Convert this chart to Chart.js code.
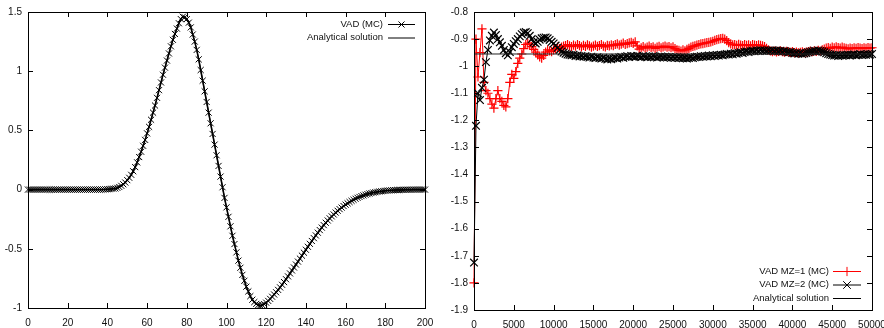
<!DOCTYPE html>
<html>
<head>
<meta charset="utf-8">
<title>VAD</title>
<script src="https://cdn.jsdelivr.net/npm/chart.js@4.4.1/dist/chart.umd.min.js"></script>
<style>
  body { margin: 0; background: #fff; }
  #wrap { position: relative; width: 884px; height: 328px; overflow: hidden; }
  canvas { position: absolute; top: 0; }
  #left { left: 0; }
  #right { left: 440px; }
</style>
</head>
<body>
<div id="wrap">
<canvas id="left" width="440" height="328"></canvas>
<canvas id="right" width="444" height="328"></canvas>
</div>
<script>
// left panel: value at x = 0, 1, 2 ... 200
var vadMC = [
	0, 0, 0, 0, 0, 0, 0, 0, 0, 0,
	0, 0, 0, 0, 0, 0, 0, 0, 0, 0,
	0, 0, 0, 0, 0, 0, 0, 0, 0, 0,
	0, 0, 0, 0, 0, 0, 0, 0, 0.001, 0.002,
	0.003, 0.004, 0.006, 0.008, 0.01, 0.015, 0.022, 0.032, 0.045, 0.06,
	0.08, 0.1, 0.125, 0.155, 0.19, 0.23, 0.275, 0.32, 0.37, 0.42,
	0.475, 0.53, 0.59, 0.65, 0.71, 0.775, 0.84, 0.905, 0.97, 1.03,
	1.09, 1.15, 1.21, 1.265, 1.315, 1.36, 1.405, 1.44, 1.46, 1.455,
	1.44, 1.41, 1.37, 1.31, 1.25, 1.18, 1.1, 1.01, 0.92, 0.83,
	0.74, 0.65, 0.56, 0.47, 0.38, 0.29, 0.2, 0.11, 0.02, -0.07,
	-0.15, -0.23, -0.31, -0.39, -0.46, -0.53, -0.6, -0.66, -0.72, -0.77,
	-0.82, -0.86, -0.9, -0.93, -0.95, -0.965, -0.975, -0.978, -0.975, -0.967,
	-0.955, -0.94, -0.923, -0.905, -0.886, -0.867, -0.847, -0.826, -0.804, -0.781,
	-0.757, -0.733, -0.708, -0.683, -0.658, -0.633, -0.608, -0.583, -0.558, -0.533,
	-0.508, -0.483, -0.458, -0.434, -0.41, -0.387, -0.364, -0.342, -0.321, -0.3,
	-0.28, -0.261, -0.243, -0.226, -0.21, -0.194, -0.179, -0.165, -0.152, -0.139,
	-0.127, -0.116, -0.105, -0.095, -0.086, -0.077, -0.069, -0.062, -0.055, -0.049,
	-0.043, -0.038, -0.033, -0.029, -0.025, -0.022, -0.019, -0.016, -0.014, -0.012,
	-0.01, -0.008, -0.007, -0.006, -0.005, -0.004, -0.003, -0.003, -0.002, -0.002,
	-0.001, -0.001, -0.001, -0.001, 0, 0, 0, 0, 0, 0,
	0
];
// MC points sit on the analytical curve at this scale
var analyticLeft = vadMC;

// right panel: one sample every 250 steps, 0 ... 50000
var mcStep = 250;
var mz1 = [
	-1.8, -0.9, -1.04, -0.95, -0.862, -1.06, -1.09, -1.1, -1.12, -1.14,
	-1.155, -1.12, -1.09, -1.12, -1.13, -1.145, -1.15, -1.12, -1.06, -1.03,
	-1.045, -1.02, -0.99, -0.97, -0.955, -0.935, -0.92, -0.915, -0.92, -0.928,
	-0.938, -0.948, -0.958, -0.966, -0.97, -0.96, -0.948, -0.94, -0.944, -0.946,
	-0.94, -0.935, -0.93, -0.935, -0.93, -0.926, -0.924, -0.92, -0.925, -0.928,
	-0.922, -0.926, -0.92, -0.924, -0.929, -0.923, -0.927, -0.921, -0.925, -0.93,
	-0.926, -0.922, -0.927, -0.924, -0.92, -0.926, -0.929, -0.923, -0.925, -0.921,
	-0.924, -0.92, -0.918, -0.922, -0.919, -0.915, -0.92, -0.917, -0.914, -0.912,
	-0.916, -0.91, -0.925, -0.937, -0.932, -0.928, -0.933, -0.93, -0.926, -0.931,
	-0.929, -0.934, -0.93, -0.927, -0.932, -0.929, -0.926, -0.93, -0.928, -0.932,
	-0.929, -0.935, -0.94, -0.942, -0.944, -0.94, -0.943, -0.938, -0.934, -0.93,
	-0.927, -0.925, -0.922, -0.92, -0.918, -0.917, -0.915, -0.913, -0.912, -0.91,
	-0.908, -0.905, -0.902, -0.9, -0.898, -0.897, -0.9, -0.906, -0.913, -0.918,
	-0.921, -0.92, -0.923, -0.919, -0.922, -0.924, -0.92, -0.923, -0.921, -0.925,
	-0.92, -0.922, -0.924, -0.921, -0.923, -0.925, -0.928, -0.934, -0.94, -0.944,
	-0.946, -0.944, -0.947, -0.945, -0.943, -0.946, -0.948, -0.945, -0.947, -0.949,
	-0.946, -0.95, -0.948, -0.951, -0.949, -0.947, -0.95, -0.948, -0.946, -0.944,
	-0.946, -0.943, -0.945, -0.942, -0.944, -0.94, -0.937, -0.933, -0.931, -0.934,
	-0.93, -0.932, -0.929, -0.931, -0.933, -0.93, -0.932, -0.934, -0.936, -0.933,
	-0.935, -0.932, -0.934, -0.931, -0.933, -0.935, -0.932, -0.934, -0.931, -0.933,
	-0.932
];
var mz2 = [
	-1.725, -1.22, -1.1, -1.125, -1.08, -1.05, -0.985, -0.94, -0.905, -0.888,
	-0.876, -0.885, -0.9, -0.912, -0.925, -0.94, -0.952, -0.96, -0.948, -0.93,
	-0.918, -0.908, -0.9, -0.89, -0.882, -0.876, -0.874, -0.878, -0.888, -0.9,
	-0.912, -0.916, -0.91, -0.902, -0.897, -0.895, -0.894, -0.897, -0.903, -0.91,
	-0.916, -0.924, -0.932, -0.94, -0.946, -0.95, -0.954, -0.957, -0.958, -0.96,
	-0.958, -0.962, -0.961, -0.964, -0.962, -0.965, -0.963, -0.966, -0.968, -0.965,
	-0.968, -0.97, -0.967, -0.97, -0.972, -0.969, -0.973, -0.975, -0.972, -0.974,
	-0.971, -0.969, -0.972, -0.968, -0.966, -0.969, -0.965, -0.963, -0.966, -0.962,
	-0.964, -0.965, -0.962, -0.964, -0.966, -0.963, -0.965, -0.967, -0.964, -0.966,
	-0.963, -0.965, -0.968, -0.966, -0.964, -0.967, -0.965, -0.968, -0.966, -0.969,
	-0.967, -0.969, -0.967, -0.97, -0.968, -0.971, -0.969, -0.972, -0.97, -0.968,
	-0.97, -0.967, -0.965, -0.966, -0.963, -0.965, -0.962, -0.964, -0.961, -0.963,
	-0.96, -0.962, -0.959, -0.961, -0.958, -0.96, -0.957, -0.955, -0.957, -0.954,
	-0.956, -0.952, -0.954, -0.951, -0.949, -0.951, -0.948, -0.946, -0.948, -0.945,
	-0.943, -0.945, -0.942, -0.944, -0.941, -0.943, -0.942, -0.944, -0.942, -0.943,
	-0.941, -0.944, -0.942, -0.945, -0.943, -0.946, -0.944, -0.947, -0.949, -0.948,
	-0.951, -0.953, -0.951, -0.954, -0.952, -0.955, -0.953, -0.951, -0.949, -0.947,
	-0.945, -0.943, -0.945, -0.942, -0.944, -0.946, -0.949, -0.952, -0.955, -0.957,
	-0.959, -0.961, -0.96, -0.962, -0.96, -0.961, -0.959, -0.96, -0.958, -0.961,
	-0.959, -0.957, -0.96, -0.958, -0.956, -0.959, -0.957, -0.958, -0.956, -0.957,
	-0.955
];
var exactRight = -0.955;

var leftXTicks = [0, 200, 20];
var leftYTicks = [-1, 1.5, 0.5];
var rightXTicks = [0, 50000, 5000];
var rightYTicks = [-1.9, -0.8, 0.1];

Chart.defaults.font.family = "'Liberation Sans', Arial, sans-serif";
Chart.defaults.font.size = 10;
Chart.defaults.color = "#111";

function points(values, step) {
	return values.map(function (v, i) { return { x: i * step, y: v }; });
}

function mark(ctx, style, x, y, r) {
	ctx.beginPath();
	if (style === "cross") {
		ctx.moveTo(x - r, y); ctx.lineTo(x + r, y);
		ctx.moveTo(x, y - r); ctx.lineTo(x, y + r);
	} else {
		var d = r * 0.7071;
		ctx.moveTo(x - d, y - d); ctx.lineTo(x + d, y + d);
		ctx.moveTo(x - d, y + d); ctx.lineTo(x + d, y - d);
	}
	ctx.stroke();
}

// gnuplot look: closed frame, inward ticks on all four sides, key inside
var gnuFrame = {
	id: "gnuFrame",
	afterDraw: function (chart, args, opts) {
		var ctx = chart.ctx, a = chart.chartArea;
		var xs = chart.scales.x, ys = chart.scales.y;
		ctx.save();
		ctx.strokeStyle = "#000";
		ctx.lineWidth = 1;
		ctx.beginPath();
		xs.ticks.forEach(function (t) {
			var px = Math.round(xs.getPixelForValue(t.value)) + 0.5;
			ctx.moveTo(px, a.bottom); ctx.lineTo(px, a.bottom - 5);
			ctx.moveTo(px, a.top); ctx.lineTo(px, a.top + 5);
		});
		ys.ticks.forEach(function (t) {
			var py = Math.round(ys.getPixelForValue(t.value)) + 0.5;
			ctx.moveTo(a.left, py); ctx.lineTo(a.left + 5, py);
			ctx.moveTo(a.right, py); ctx.lineTo(a.right - 5, py);
		});
		ctx.stroke();
		ctx.strokeRect(Math.round(a.left) + 0.5, Math.round(a.top) + 0.5,
			Math.round(a.right - a.left), Math.round(a.bottom - a.top));

		// key
		var k = opts.key;
		ctx.font = "9.5px 'Liberation Sans', Arial, sans-serif";
		ctx.textAlign = "right";
		ctx.textBaseline = "middle";
		k.rows.forEach(function (row) {
			ctx.fillStyle = "#111";
			ctx.fillText(row.label, k.textRight, row.y);
			ctx.strokeStyle = row.color;
			ctx.lineWidth = 1;
			ctx.beginPath();
			ctx.moveTo(k.x0, row.y + 0.5); ctx.lineTo(k.x1, row.y + 0.5);
			ctx.stroke();
			if (row.marker) mark(ctx, row.marker, (k.x0 + k.x1) / 2, row.y + 0.5, row.r);
		});
		ctx.restore();
	}
};

function scales(xt, yt, yWidth, xHeight) {
	var noGrid = { display: false, drawTicks: false, tickLength: 0 };
	return {
		x: {
			type: "linear", min: xt[0], max: xt[1],
			grid: noGrid, border: { display: false },
			ticks: { stepSize: xt[2], autoSkip: false, maxRotation: 0, padding: 9,
				callback: function (v) { return String(v); } },
			afterFit: function (s) { s.height = xHeight; s.paddingLeft = 0; s.paddingRight = 0; }
		},
		y: {
			type: "linear", min: yt[0], max: yt[1],
			grid: noGrid, border: { display: false },
			ticks: { stepSize: yt[2], autoSkip: false, padding: 6,
				callback: function (v) { return String(Math.round(v * 10) / 10); } },
			afterFit: function (s) { s.width = yWidth; s.paddingTop = 0; s.paddingBottom = 0; }
		}
	};
}

new Chart(document.getElementById("left"), {
	type: "line",
	data: {
		datasets: [
			{
				label: "VAD (MC)",
				data: points(vadMC, 1),
				borderColor: "#000", borderWidth: 1,
				pointStyle: "crossRot", pointRadius: 4.3, pointBorderWidth: 1,
				pointBorderColor: "#000", clip: false, order: 2
			},
			{
				label: "Analytical solution",
				data: points(analyticLeft, 1),
				borderColor: "#000", borderWidth: 1.6,
				pointRadius: 0, clip: false, order: 1
			}
		]
	},
	options: {
		responsive: false, animation: false, devicePixelRatio: 1, events: [],
		layout: { padding: { top: 12, right: 15, left: 0, bottom: 0 } },
		elements: { line: { tension: 0 } },
		scales: scales(leftXTicks, leftYTicks, 28, 20),
		plugins: {
			legend: { display: false }, tooltip: { enabled: false },
			gnuFrame: { key: { textRight: 383, x0: 388, x1: 415, rows: [
				{ label: "VAD (MC)", y: 24, color: "#000", marker: "crossRot", r: 4.3 },
				{ label: "Analytical solution", y: 37.5, color: "#000" }
			] } }
		}
	},
	plugins: [gnuFrame]
});

new Chart(document.getElementById("right"), {
	type: "line",
	data: {
		datasets: [
			{
				label: "VAD MZ=1 (MC)",
				data: points(mz1, mcStep),
				borderColor: "#ff0000", borderWidth: 1,
				pointStyle: "cross", pointRadius: 4.6, pointBorderWidth: 1.2,
				pointBorderColor: "#ff0000", clip: false, order: 3
			},
			{
				label: "VAD MZ=2 (MC)",
				data: points(mz2, mcStep),
				borderColor: "#000", borderWidth: 1,
				pointStyle: "crossRot", pointRadius: 5.4, pointBorderWidth: 1.2,
				pointBorderColor: "#000", clip: false, order: 2
			},
			{
				label: "Analytical solution",
				data: [{ x: rightXTicks[0], y: exactRight }, { x: rightXTicks[1], y: exactRight }],
				borderColor: "#222", borderWidth: 1,
				pointRadius: 0, clip: false, order: 1
			}
		]
	},
	options: {
		responsive: false, animation: false, devicePixelRatio: 1, events: [],
		layout: { padding: { top: 12, right: 12, left: 0, bottom: 0 } },
		elements: { line: { tension: 0 } },
		scales: scales(rightXTicks, rightYTicks, 34, 18),
		plugins: {
			legend: { display: false }, tooltip: { enabled: false },
			gnuFrame: { key: { textRight: 389, x0: 393, x1: 421, rows: [
				{ label: "VAD MZ=1 (MC)", y: 271, color: "#ff0000", marker: "cross", r: 4.6 },
				{ label: "VAD MZ=2 (MC)", y: 284.5, color: "#000", marker: "crossRot", r: 5.4 },
				{ label: "Analytical solution", y: 298, color: "#000" }
			] } }
		}
	},
	plugins: [gnuFrame]
});
</script>
</body>
</html>
